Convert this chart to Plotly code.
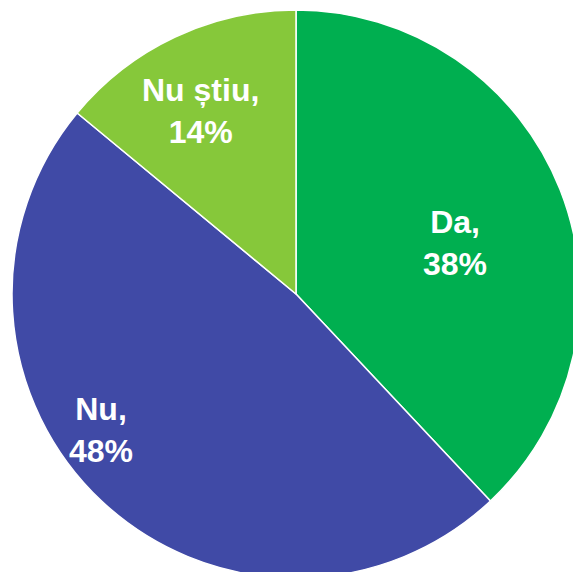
import plotly.graph_objects as go

labels = ["Da", "Nu", "Nu știu"]
values = [38, 48, 14]
colors = ["#00AF50", "#404AA6", "#86C83A"]

# where each slice label sits (paper fraction), matching the original layout
label_x = [0.780, 0.157, 0.331]
label_y = [0.589, 0.261, 0.822]

fig = go.Figure(
    go.Pie(
        labels=labels,
        values=values,
        sort=False,
        direction="clockwise",
        rotation=0,
        marker=dict(colors=colors, line=dict(color="white", width=1.5)),
        textinfo="none",
        hoverinfo="skip",
    )
)

for lab, val, x, y in zip(labels, values, label_x, label_y):
    fig.add_annotation(
        text=f"<b>{lab},<br>{val}%</b>",
        x=x,
        y=y,
        xref="paper",
        yref="paper",
        showarrow=False,
        xanchor="center",
        yanchor="middle",
        align="center",
        font=dict(family="Liberation Sans, Arial", size=32, color="white"),
    )

fig.update_layout(
    width=580,
    height=578,
    margin=dict(l=12, r=0, t=10, b=0),
    showlegend=False,
    paper_bgcolor="white",
)

fig.write_html(
    "out.html",
    config={"displayModeBar": False},
    post_script="document.body.style.margin='0';document.body.style.overflow='hidden';",
)
